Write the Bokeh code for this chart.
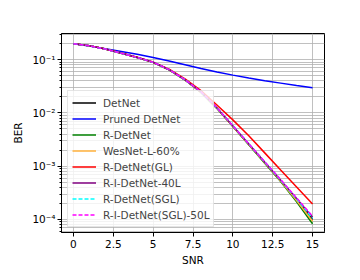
from bokeh.plotting import figure
from bokeh.models import Range1d, FixedTicker, CustomJSTickFormatter, Legend, LegendItem
from bokeh.embed import file_html
from bokeh.resources import INLINE

snr = [0, 1, 2, 3, 4, 5, 6, 7, 8, 9, 10, 11, 12, 13, 14, 15]

detnet = [0.2, 0.182, 0.158, 0.132, 0.110, 0.0891, 0.0646, 0.0417, 0.0245, 0.0123, 0.00562, 0.00257, 0.00117, 5.3e-4, 2.35e-4, 1.0e-4]
pruned = [0.2, 0.180, 0.161, 0.143, 0.126, 0.110, 0.0944, 0.0804, 0.0684, 0.0589, 0.0513, 0.0452, 0.0403, 0.0363, 0.0327, 0.0298]
r_detnet = [0.2, 0.182, 0.158, 0.132, 0.110, 0.0889, 0.0644, 0.0415, 0.0243, 0.0122, 0.00555, 0.00252, 0.00114, 5.15e-4, 2.15e-4, 8.3e-5]
wesnet = [0.2, 0.182, 0.158, 0.132, 0.110, 0.0890, 0.0645, 0.0416, 0.0244, 0.0122, 0.00558, 0.00255, 0.00116, 5.25e-4, 2.28e-4, 9.3e-5]
r_detnet_gl = [0.2, 0.182, 0.158, 0.133, 0.111, 0.0902, 0.0661, 0.0437, 0.0263, 0.0141, 0.00741, 0.00372, 0.00178, 8.5e-4, 4.07e-4, 1.95e-4]
ri_detnet_40 = [0.2, 0.182, 0.158, 0.132, 0.110, 0.0893, 0.0648, 0.0419, 0.0247, 0.0124, 0.00568, 0.00261, 0.00119, 5.45e-4, 2.48e-4, 1.1e-4]
r_detnet_sgl = [0.2, 0.182, 0.158, 0.132, 0.110, 0.0894, 0.0650, 0.0421, 0.0248, 0.0125, 0.00572, 0.00262, 0.00120, 5.5e-4, 2.45e-4, 1.05e-4]
ri_detnet_sgl50 = [0.2, 0.182, 0.158, 0.132, 0.110, 0.0895, 0.0651, 0.0422, 0.0249, 0.0126, 0.00575, 0.00265, 0.00122, 5.6e-4, 2.55e-4, 1.15e-4]

names = ["DetNet", "Pruned DetNet", "R-DetNet", "WesNet-L-60%", "R-DetNet(GL)",
         "R-I-DetNet-40L", "R-DetNet(SGL)", "R-I-DetNet(SGL)-50L"]
series = [detnet, pruned, r_detnet, wesnet, r_detnet_gl, ri_detnet_40, r_detnet_sgl, ri_detnet_sgl50]
colors = ["#000000", "#0000ff", "#008000", "#ffb13b", "#ff0000", "#800080", "#00ffff", "#ff00ff"]
dashes = ["solid", "solid", "solid", "solid", "solid", "solid", "4 2", "4 2"]

x_ticks = [0, 2.5, 5, 7.5, 10, 12.5, 15]
y_ticks = [1e-4, 1e-3, 1e-2, 1e-1]
y_minor = [m * 10.0 ** e for e in range(-5, 0) for m in range(2, 10)]

FONT = "DejaVu Sans"
FS = "10.5px"

p = figure(width=352, height=272, y_axis_type="log", output_backend="svg",
           toolbar_location=None,
           x_range=Range1d(-0.75, 15.75), y_range=Range1d(5.7e-5, 0.31),
           min_border_left=61, min_border_right=28, min_border_top=33, min_border_bottom=40)

p.outline_line_color = "black"
p.outline_line_width = 1

p.xaxis.ticker = FixedTicker(ticks=x_ticks)
p.yaxis.ticker = FixedTicker(ticks=y_ticks, minor_ticks=y_minor)
p.yaxis.formatter = CustomJSTickFormatter(code="""
const e = Math.round(Math.log10(tick));
const sup = {'-':'\u207b','0':'\u2070','1':'\u00b9','2':'\u00b2','3':'\u00b3','4':'\u2074','5':'\u2075','6':'\u2076','7':'\u2077','8':'\u2078','9':'\u2079'};
return '10' + String(e).split('').map(c => sup[c]).join('');
""")

for ax in (p.xaxis[0], p.yaxis[0]):
    ax.axis_line_color = "black"
    ax.major_tick_line_color = "black"
    ax.minor_tick_line_color = "black"
    ax.major_tick_out = 4
    ax.major_tick_in = 0
    ax.minor_tick_out = 2
    ax.minor_tick_in = 0
    ax.major_label_text_font = FONT
    ax.major_label_text_font_size = FS
    ax.major_label_text_color = "black"
    ax.axis_label_text_font = FONT
    ax.axis_label_text_font_size = FS
    ax.axis_label_text_font_style = "normal"
    ax.axis_label_text_color = "black"

p.xaxis.minor_tick_line_color = None
p.xaxis.major_label_standoff = 3
p.yaxis.major_label_standoff = 2
p.xaxis.axis_label = "SNR"
p.yaxis.axis_label = "BER"
p.xaxis.axis_label_standoff = 3
p.yaxis.axis_label_standoff = 5

p.xgrid.grid_line_color = "#b0b0b0"
p.xgrid.grid_line_width = 0.8
p.ygrid.grid_line_color = "#b0b0b0"
p.ygrid.grid_line_width = 0.8
p.ygrid.minor_grid_line_color = "#b0b0b0"
p.ygrid.minor_grid_line_width = 0.8

items = []
for name, ys, c, d in zip(names, series, colors, dashes):
    r = p.line(snr, ys, line_color=c, line_width=1.5, line_dash=d)
    items.append(LegendItem(label=name, renderers=[r]))

legend = Legend(items=items, location=(6, 5), margin=0, padding=4, spacing=1,
                label_height=15, glyph_height=15, glyph_width=24, label_standoff=7,
                label_text_font=FONT, label_text_font_size=FS,
                border_line_color="#cccccc", border_line_width=1,
                background_fill_color="white", background_fill_alpha=0.8)
p.add_layout(legend, "center")

open("out.html", "w").write(file_html(p, INLINE))
